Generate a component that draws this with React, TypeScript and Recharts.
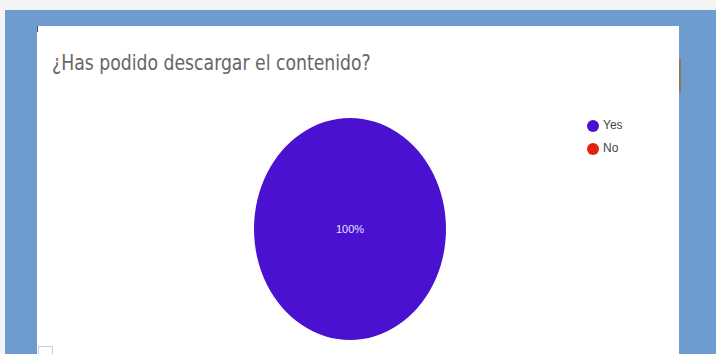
import { PieChart, Pie, Cell, Legend } from 'recharts';

const answers = ['Yes', 'No'];
const shares = [100, 0];
const colors = ['#4a12d0', '#e0230f'];

const data = answers.map((name, i) => ({ name, value: shares[i] }));

const renderLabel = (props: any) => {
  const { cx, cy, percent } = props;
  if (!percent) return null;
  return (
    <text x={cx} y={cy} fill="#e8e0ff" fontSize={11} textAnchor="middle" dominantBaseline="central">
      {`${Math.round(percent * 100)}%`}
    </text>
  );
};

export default function App() {
  return (
    <div style={{ position: 'absolute', left: 0, top: 0, width: 716, height: 354, background: '#f4f4f4', overflow: 'hidden', fontFamily: '"Liberation Sans", Arial, sans-serif' }}>
      <style>{`
        .recharts-pie { transform: scaleY(1.156); transform-origin: 350px 229px; }
        .recharts-legend-item { margin-bottom: 9px; line-height: 14px; }
      `}</style>
      {/* blue frame */}
      <div style={{ position: 'absolute', left: 5, top: 10, width: 711, height: 344, background: '#6f9ccf' }} />
      {/* white panel */}
      <div style={{ position: 'absolute', left: 37, top: 26, width: 642, height: 328, background: '#fff' }} />
      <div style={{ position: 'absolute', left: 37, top: 26, width: 1, height: 6, background: '#555' }} />
      <div style={{ position: 'absolute', left: 679, top: 58, width: 2, height: 35, background: '#8a7a5a' }} />
      <div style={{ position: 'absolute', left: 38, top: 346, width: 13, height: 10, border: '1px solid #ccc' }} />
      <div style={{ position: 'absolute', left: 52, top: 50, fontSize: 19, color: '#666', whiteSpace: 'nowrap', transform: 'scale(1.01, 1.1)', transformOrigin: 'left top', fontFamily: '"DejaVu Sans Condensed", "DejaVu Sans", sans-serif' }}>
        ¿Has podido descargar el contenido?
      </div>
      <div style={{ position: 'absolute', left: 0, top: 0 }}>
        <PieChart width={716} height={354} margin={{ top: 0, right: 0, bottom: 0, left: 0 }}>
          <Pie
            data={data}
            dataKey="value"
            nameKey="name"
            cx={350}
            cy={229}
            outerRadius={96}
            startAngle={90}
            endAngle={-270}
            stroke="none"
            label={renderLabel}
            labelLine={false}
            isAnimationActive={false}
          >
            {data.map((entry, index) => (
              <Cell key={`cell-${index}`} fill={colors[index]} />
            ))}
          </Pie>
          <Legend
            layout="vertical"
            verticalAlign="top"
            align="right"
            iconType="circle"
            iconSize={12}
            itemSorter={(item: any) => answers.indexOf(item.value)}
            wrapperStyle={{ top: 118, left: 587, width: 60, fontSize: 12 }}
            formatter={(value: string) => <span style={{ color: '#444' }}>{value}</span>}
          />
        </PieChart>
      </div>
    </div>
  );
}
